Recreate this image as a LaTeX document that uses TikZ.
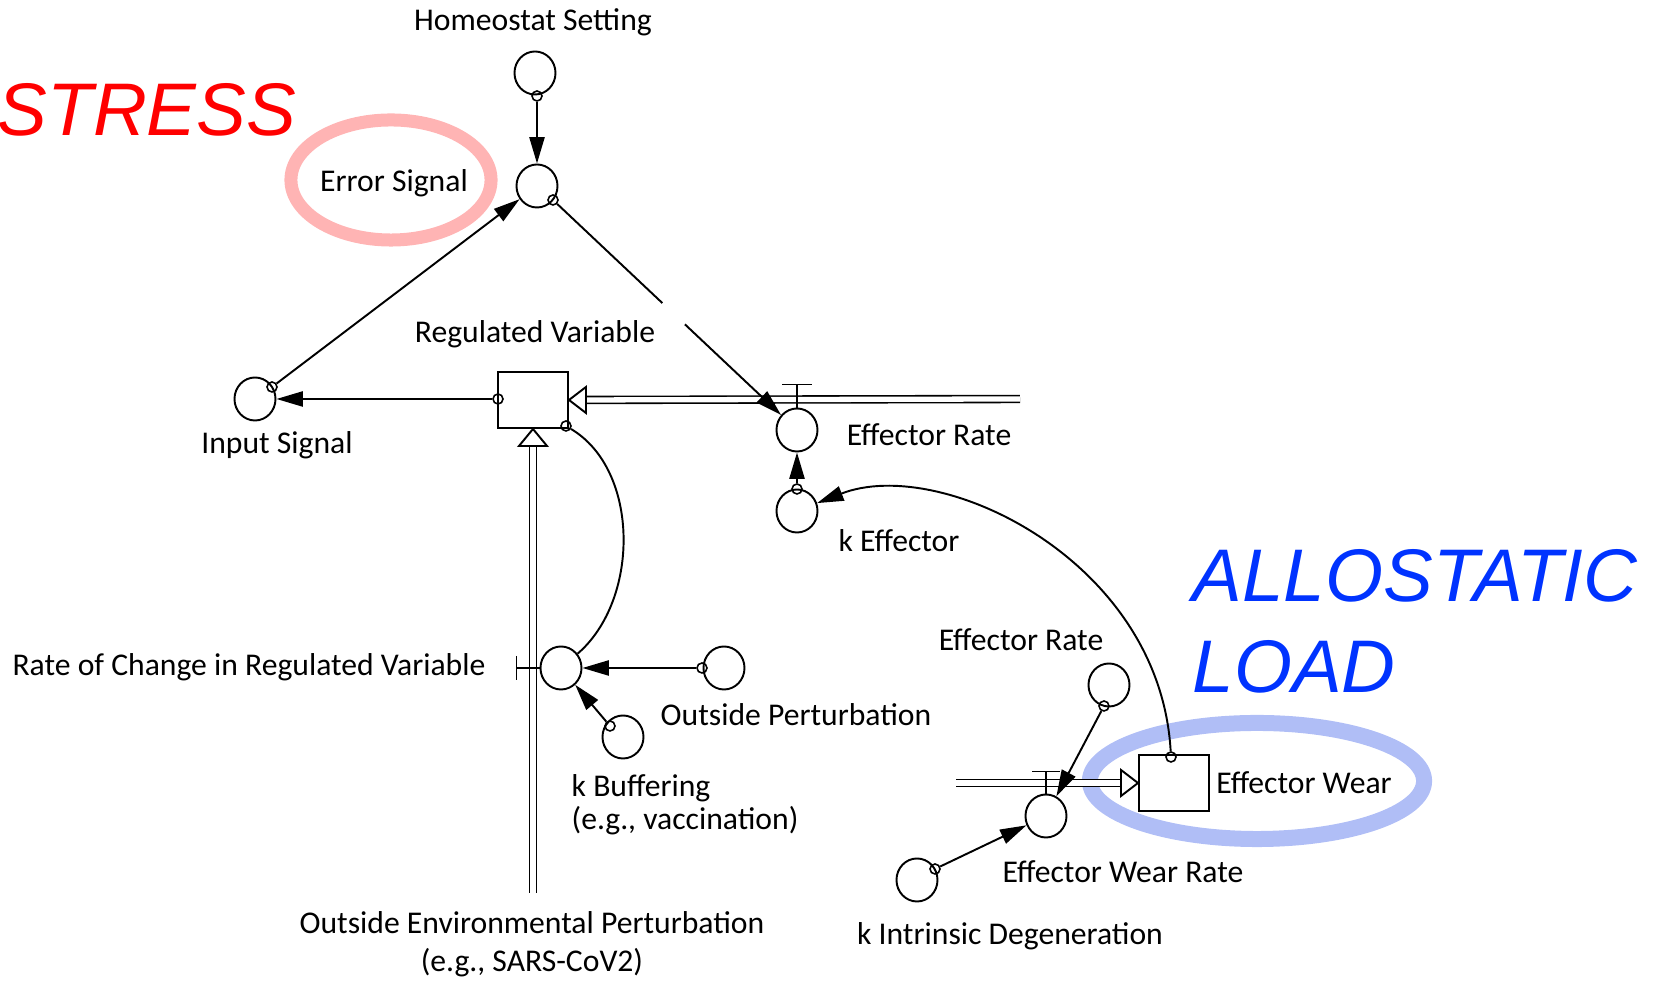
\documentclass[tikz,border=0pt]{standalone}
\usepackage{fontspec}
\setmainfont{Carlito}
\newfontfamily\bigfont{Liberation Sans}
\usepackage{xcolor}
\usepackage{tikz}
\usetikzlibrary{arrows.meta,shapes.geometric}
\definecolor{stressred}{RGB}{255,0,0}
\definecolor{loadblue}{RGB}{0,51,255}
\definecolor{ringpink}{RGB}{255,180,180}
\definecolor{ringblue}{RGB}{176,190,246}
\tikzset{
  aux/.style      = { draw, ellipse, minimum width=0.41cm, minimum height=0.43cm, inner sep=0pt, line width=0.55pt },
  stock/.style    = { draw, rectangle, minimum width=0.7cm, minimum height=0.56cm, inner sep=0pt, line width=0.55pt },
  port/.style     = { draw, circle, minimum size=0.1cm, inner sep=0pt, line width=0.45pt },
  link/.style     = { line width=0.55pt, -{Triangle[length=7.5pt,width=4.3pt]} },
  curve/.style    = { line width=0.55pt },
  pipe/.style     = { double, double distance=1.5pt, line width=0.45pt },
  flowtip/.style  = { draw, fill=white, line width=0.55pt },
  valve/.style    = { line width=0.55pt },
  lbl/.style      = { inner sep=0pt, font=\fontsize{9}{11}\selectfont },
  hl/.style       = { inner sep=0pt, font=\bigfont\itshape\fontsize{21.2}{25.8}\selectfont },
  stressring/.style = { draw=ringpink, line width=0.13cm },
  loadring/.style   = { draw=ringblue, line width=0.16cm }
}

\begin{document}
\begin{tikzpicture}[x=0.01cm, y=-0.01cm]
  \useasboundingbox (0,0) rectangle (1656,983);
  % Draw highlight rings
  \draw[stressring] (391,180) ellipse [x radius=1cm, y radius=0.6cm];
  \draw[loadring] (1257,781) ellipse [x radius=1.67cm, y radius=0.58cm];
  % Draw stocks and variables
  \node[aux] (hs) at (535,73) {};
  \node[aux] (err) at (537,186) {};
  \node[aux] (inSig) at (255,399) {};
  \node[stock] (rv) at (533,400) {};
  \node[aux] (effRate) at (797,430) {};
  \node[aux] (kEff) at (797,511) {};
  \node[aux] (roc) at (561,668) {};
  \node[aux] (outP) at (724,668) {};
  \node[aux] (kBuf) at (623,737) {};
  \node[aux] (effRateB) at (1109,685) {};
  \node[aux] (ewr) at (1046,816) {};
  \node[stock] (ew) at (1174,783) {};
  \node[aux] (kID) at (917,880) {};
  % Draw ports
  \node[port] (hsP) at (537,96) {};
  \node[port] (errP) at (553,200) {};
  \node[port] (inP) at (272,387) {};
  \node[port] (rvL) at (498,399) {};
  \node[port] (rvB) at (566,426) {};
  \node[port] (kEffP) at (797,489) {};
  \node[port] (outPP) at (702,668) {};
  \node[port] (kBufP) at (610,726) {};
  \node[port] (effRateBP) at (1104,706) {};
  \node[port] (ewP) at (1171,757) {};
  \node[port] (kIDP) at (935,869) {};
  % Draw pipes
  \coordinate (srcTop) at (1020,399);
  \coordinate (srcBot) at (533,893);
  \coordinate (srcEW) at (956,783);
  \draw[pipe, shorten >=0.16cm] (srcTop) -- (rv.east);
  \draw[flowtip] (rv.east) -- ++(17,-13) -- ++(0,26) -- cycle;
  \draw[pipe, shorten >=0.16cm] (srcBot) -- (rv.south);
  \draw[flowtip] (rv.south) -- ++(-14,17) -- ++(28,0) -- cycle;
  \draw[pipe, shorten >=0.16cm] (srcEW) -- (ew.west);
  \draw[flowtip] (ew.west) -- ++(-17,-13) -- ++(0,26) -- cycle;
  % Draw valves
  \draw[valve] (effRate.north) -- ++(0,-23) ++(-15,0) -- ++(30,0);
  \draw[valve] (ewr.north) -- ++(0,-22) ++(-14,0) -- ++(28,0);
  \draw[valve] (roc.west) -- ++(-23,0) ++(0,-12) -- ++(0,24);
  % Draw links
  \draw[link] (hsP) -- (err);
  \draw[link] (inP) -- (err);
  \draw[link] (errP) -- (effRate);
  \path (errP) -- (effRate) coordinate[pos=0.47] (gapA) coordinate[pos=0.57] (gapB);
  \draw[white, line width=2pt] (gapA) -- (gapB);
  \draw[link] (rvL) -- (inSig);
  \draw[link] (kEffP) -- (effRate);
  \draw[curve] (rvB) .. controls (640,470) and (640,600) .. (roc);
  \draw[link] (outPP) -- (roc);
  \draw[link] (kBufP) -- (roc);
  \draw[link] (ewP) .. controls (1160,560) and (940,455) .. (kEff);
  \draw[link] (effRateBP) -- (ewr);
  \draw[link] (kIDP) -- (ewr);
  % Draw labels
  \node[lbl] (hsL) at (533,22) {Homeostat Setting};
  \node[lbl] (errL) at (394,183) {Error Signal};
  \node[lbl] (rvLbl) at (535,334) {Regulated Variable};
  \node[lbl] (inL) at (277,445) {Input Signal};
  \node[lbl] (effRateL) at (929,435) {Effector Rate};
  \node[lbl] (kEffL) at (899,541) {k Effector};
  \node[lbl] (rocL) at (249,667) {Rate of Change in Regulated Variable};
  \node[lbl] (outPL) at (796,715) {Outside Perturbation};
  \node[lbl, align=left, anchor=west, font=\fontsize{9}{9.4}\selectfont] (kBufL) at (571,805) {k Buffering\\(e.g., vaccination)};
  \node[lbl, align=center, font=\fontsize{9}{10.8}\selectfont] (envL) at (532,944) {Outside Environmental Perturbation\\(e.g., SARS-CoV2)};
  \node[lbl] (effRateBL) at (1021,640) {Effector Rate};
  \node[lbl] (ewL) at (1304,783) {Effector Wear};
  \node[lbl] (ewrL) at (1123,872) {Effector Wear Rate};
  \node[lbl] (kIDL) at (1010,936) {k Intrinsic Degeneration};
  % Draw annotations
  \node[hl, text=stressred] (stress) at (147,110) {STRESS};
  \node[hl, text=loadblue, align=left, anchor=north west] (load) at (1192,549) {ALLOSTATIC\\LOAD};
\end{tikzpicture}
\end{document}
